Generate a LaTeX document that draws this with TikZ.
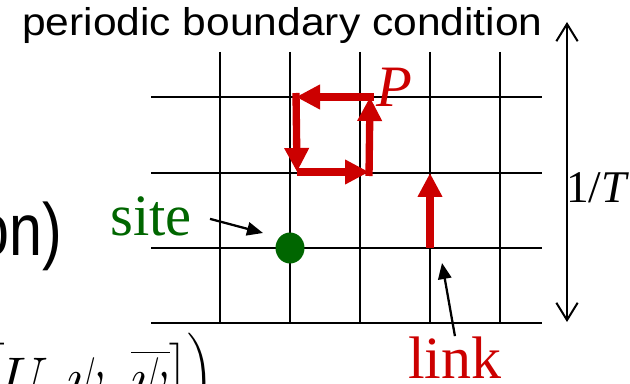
\RequirePackage{fix-cm}
\documentclass[tikz,border=0pt]{standalone}
\usepackage{amsmath}
\usepackage{fontspec}
\setmainfont{Liberation Serif}
\newfontfamily\sansfont{Liberation Sans}
\usepackage{tikz}
\usetikzlibrary{arrows.meta,positioning,shapes.geometric}
\definecolor{latred}{RGB}{204,0,0}
\definecolor{latgreen}{RGB}{0,102,0}

\begin{document}
\begin{tikzpicture}[x=0.75pt,y=-0.75pt,
  gridline/.style={line width=1.5pt},
  linkarr/.style={latred,line width=5.5pt,-{Triangle[length=18pt,width=17.5pt]}},
  pointer/.style={line width=1.7pt,-{Triangle[length=12pt,width=10pt]}},
  txt/.style={inner sep=0pt,anchor=base west}]
\useasboundingbox (0,0) rectangle (630,384);
\clip (0,0) rectangle (630,384);

% lattice
\foreach \x in {220,290,360,430,500}
  \draw[gridline] (\x,52) -- (\x,323);
\foreach \y in {97,173,248,323}
  \draw[gridline] (151,\y) -- (542,\y);

% plaquette
\coordinate (pa) at (297,172);
\coordinate (pb) at (369,172);
\coordinate (pc) at (370,97);
\coordinate (pd) at (296,97);
\draw[linkarr] (pa) -- (pb);
\draw[linkarr] ([yshift=-3pt]pb) -- (pc);
\draw[linkarr] ([xshift=3pt]pc) -- (pd);
\draw[linkarr] ([yshift=3pt]pd) -- (pa);
\node[txt,font=\fontsize{44}{48}\selectfont,text=latred] (plab) at (376,107) {\textit{P}};

% single link
\coordinate (lk0) at (430,248);
\coordinate (lk1) at (430,173);
\draw[linkarr] (lk0) -- (lk1);
\node[txt,font=\fontsize{45}{50}\selectfont,text=latred] (link) at (408,378) {link};
\coordinate (linktip) at (442,263);
\draw[pointer] (link.north) -- (linktip);

% site
\node[ellipse,fill=latgreen,inner sep=0pt,minimum width=21.75pt,minimum height=23.25pt] (dot) at (290,248) {};
\node[txt,font=\fontsize{44}{48}\selectfont,text=latgreen] (site) at (110,235) {site};
\coordinate (sitetip) at (263,233);
\draw[pointer] ([shift={(18,3)}]site.east) -- (sitetip);

% extent in time direction
\coordinate (ttop) at (567,22);
\coordinate (tbot) at (567,322);
\draw[line width=1.5pt,{Straight Barb[length=13pt,width=16pt]}-{Straight Barb[length=13pt,width=16pt]}] (ttop) -- (tbot);
\node[txt,font=\fontsize{34}{40}\selectfont] (tlab) at (566,203) {1/\textit{T}};

% texts
\node[txt,font=\sansfont\fontsize{29}{32}\selectfont] (pbc) at (22,36) {\scalebox{1.1}[1]{periodic boundary condition}};
\node[anchor=base east,inner sep=0pt,font=\sansfont\fontsize{55.5}{60}\selectfont] (frag) at (62,255) {\scalebox{0.8}[1]{on)}};
\node[anchor=base east,inner sep=0pt,font=\fontsize{43}{48}\selectfont] (act) at (214,397) {$\bigl[U,\psi,\overline{\psi}\bigr]\Bigr)$};
\end{tikzpicture}
\end{document}
